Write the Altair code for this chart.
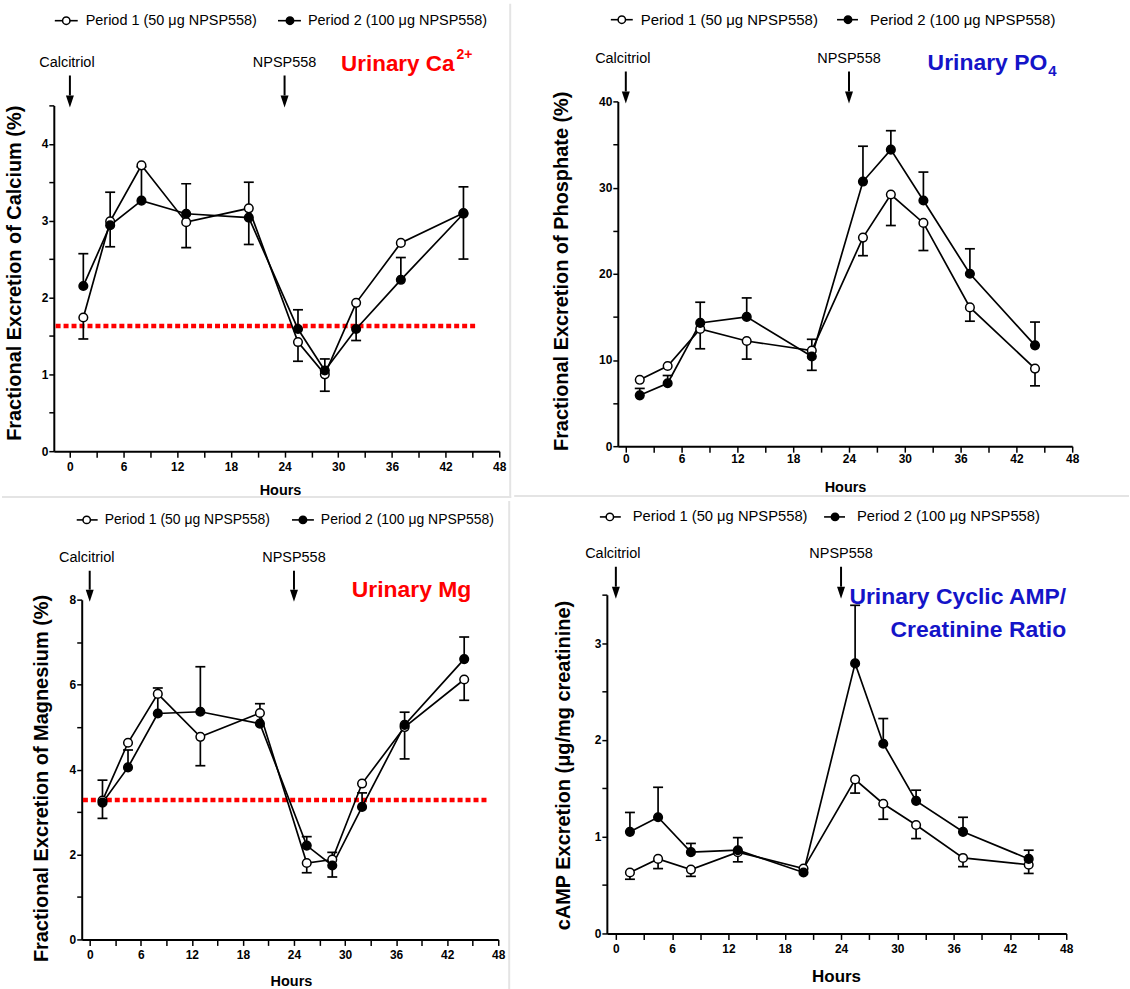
import altair as alt
import pandas as pd

FONT = "Liberation Sans"
RED = "#ff0000"
BLUE = "#1414c8"
ARROW = "M-0.667,-1L0.667,-1L0,1Z"

# ---------------- data ----------------
hours = [1.5, 4.5, 8, 13, 20, 25.5, 28.5, 32, 37, 44]
series_names = ["Period 1 (50 μg NPSP558)", "Period 2 (100 μg NPSP558)"]
dose_events = [0, 24]
dose_labels = ["Calcitriol", "NPSP558"]
x_ticks = list(range(0, 49, 3))

# Urinary Ca2+ : fractional excretion (%) mean and end of error bar
ca_p1 = [1.74, 2.99, 3.72, 2.98, 3.16, 1.42, 1.00, 1.93, 2.71, 3.10]
ca_p1_bar = [1.46, 2.66, 3.72, 2.65, 2.69, 1.17, 0.78, 1.44, 2.71, 2.50]
ca_p2 = [2.15, 2.94, 3.26, 3.09, 3.04, 1.59, 1.05, 1.59, 2.23, 3.09]
ca_p2_bar = [2.57, 3.37, 3.70, 3.48, 3.50, 1.84, 1.20, 1.59, 2.52, 3.44]
ca_ref_level = 1.63
ca_ref_span = [-1.6, 45.4]

# Urinary PO4
po_p1 = [7.7, 9.3, 13.6, 12.2, 11.1, 24.2, 29.2, 25.9, 16.1, 9.0]
po_p1_bar = [7.7, 9.3, 11.3, 10.1, 8.8, 22.1, 25.6, 22.7, 14.5, 7.0]
po_p2 = [5.9, 7.3, 14.3, 15.0, 10.4, 30.7, 34.4, 28.5, 20.0, 11.7]
po_p2_bar = [6.7, 8.2, 16.7, 17.2, 12.4, 34.8, 36.6, 31.8, 22.9, 14.4]

# Urinary Mg
mg_p1 = [3.27, 4.63, 5.78, 4.77, 5.33, 1.80, 1.88, 3.67, 5.00, 6.12]
mg_p1_bar = [2.85, 4.63, 5.78, 4.09, 5.33, 1.57, 1.47, 3.67, 4.25, 5.63]
mg_p2 = [3.22, 4.05, 5.32, 5.36, 5.08, 2.21, 1.74, 3.12, 5.05, 6.60]
mg_p2_bar = [3.75, 4.46, 5.92, 6.42, 5.55, 2.42, 2.05, 3.45, 5.35, 7.12]
mg_ref_level = 3.28
mg_ref_span = [-0.8, 46.8]

# Urinary cAMP / creatinine
camp_p1 = [0.63, 0.77, 0.66, 0.84, 0.67, 1.59, 1.34, 1.12, 0.78, 0.71]
camp_p1_bar = [0.56, 0.67, 0.59, 0.74, 0.67, 1.45, 1.18, 0.98, 0.69, 0.62]
camp_p2 = [1.05, 1.20, 0.84, 0.86, 0.63, 2.79, 1.96, 1.37, 1.05, 0.77]
camp_p2_bar = [1.25, 1.51, 0.93, 0.99, 0.63, 3.39, 2.22, 1.48, 1.20, 0.86]

one = pd.DataFrame({"k": [0]})


def frange(a, b, s):
    out, v = [], a
    while v <= b + 1e-9:
        out.append(round(v, 3))
        v += s
    return out


def spacer():
    return alt.Chart(one).mark_rect(opacity=0).encode(
        x=alt.value(0), x2=alt.value(1), y=alt.value(0), y2=alt.value(1)
    ).properties(width=1, height=1)


def panel(p1, p1b, p2, p2b, c, ref=None):
    rows = []
    for name, vals, bars in ((series_names[0], p1, p1b), (series_names[1], p2, p2b)):
        for t, v, e in zip(hours, vals, bars):
            rows.append({"series": name, "t": t, "v": v, "e": e})
    df = pd.DataFrame(rows)

    common = dict(domainColor="black", domainWidth=2, tickColor="black", tickWidth=1.5,
                  labelFont=FONT, labelFontWeight="bold", labelFontSize=12, labelColor="black",
                  titleFont=FONT, titleFontWeight="bold", titleColor="black", grid=False,
                  labelFlush=False, labelOverlap=False, titleBaseline="middle", titleAlign="center")
    xaxis = alt.Axis(values=x_ticks, labelExpr="datum.value % 6 === 0 ? format(datum.value, 'd') : ''",
                     tickSize=6, labelPadding=c["xlp"], title="Hours", titleFontSize=c["hfs"],
                     titleX=c["hx"], titleY=c["hy"], **common)
    yaxis = alt.Axis(values=c["yvals"],
                     labelExpr=f"datum.value % {c['ymaj']} === 0 ? format(datum.value, 'd') : ''",
                     tickSize=5, labelPadding=1, title=c["ytitle"], titleFontSize=20,
                     titleX=c["ytx"], titleY=c["yty"], titleAngle=270, **common)

    def X(f="t"):
        return alt.X(f"{f}:Q", scale=alt.Scale(domain=[c["xmin"], 48], nice=False, zero=False), axis=xaxis)

    def Y(f="v"):
        return alt.Y(f"{f}:Q", scale=alt.Scale(domain=[0, c["ymax"]], nice=False), axis=yaxis)

    layers = []
    a0, a1, a2, a3 = c["anchor"]
    layers.append(alt.Chart(one).mark_rect(opacity=0).encode(
        x=alt.value(a0), x2=alt.value(a1), y=alt.value(a2), y2=alt.value(a3)))
    for (sx0, sx1, sy0, sy1) in c["seps"]:
        layers.append(alt.Chart(one).mark_rule(color="#e4e4e4", strokeWidth=2).encode(
            x=alt.value(sx0), x2=alt.value(sx1), y=alt.value(sy0), y2=alt.value(sy1)))

    if ref is not None:
        level, span = ref
        rdf = pd.DataFrame({"t": [span[0]], "t2": [span[1]], "v": [level]})
        layers.append(alt.Chart(rdf).mark_rule(color=RED, strokeWidth=4.5, strokeDash=[5, 3]).encode(
            x=X(), x2="t2:Q", y=Y()))

    layers.append(alt.Chart(df).mark_line(color="black", strokeWidth=1.7).encode(
        x=X(), y=Y(), detail="series:N"))
    layers.append(alt.Chart(df).transform_filter("datum.e != datum.v").mark_rule(
        color="black", strokeWidth=1.7).encode(x=X(), y=Y(), y2="e:Q"))
    layers.append(alt.Chart(df).transform_filter("datum.e != datum.v").mark_tick(
        color="black", orient="horizontal", size=10, thickness=1.7, opacity=1).encode(x=X(), y=Y("e")))
    layers.append(alt.Chart(df).mark_point(filled=True, size=75, stroke="black", strokeWidth=1.5,
                                           opacity=1).encode(
        x=X(), y=Y(),
        fill=alt.Fill("series:N", scale=alt.Scale(domain=series_names, range=["white", "black"]),
                      legend=None)))

    # dosing arrows
    ev = pd.DataFrame({"t": dose_events, "label": dose_labels})
    s0, s1, hc = c["arr"]
    layers.append(alt.Chart(ev).mark_rule(color="black", strokeWidth=2).encode(
        x=X(), y=alt.value(s0), y2=alt.value(s1)))
    layers.append(alt.Chart(ev).mark_point(shape=ARROW, size=144, filled=True, color="black",
                                           opacity=1).encode(x=X(), y=alt.value(hc)))
    layers.append(alt.Chart(ev).transform_filter("datum.t == 0").mark_text(
        font=FONT, fontSize=14.5, dx=-3, baseline="middle", color="black").encode(
        x=X(), y=alt.value(c["laby"]), text="label:N"))
    layers.append(alt.Chart(ev).transform_filter("datum.t == 24").mark_text(
        font=FONT, fontSize=14.5, dx=0, baseline="middle", color="black").encode(
        x=X(), y=alt.value(c["laby"]), text="label:N"))

    # legend
    ly = c["leg_y"]
    o0, o1, oc, ot, f0, f1, fc, ft = c["leg"]
    for (l0, l1, lc, lt, fillc, name) in ((o0, o1, oc, ot, "white", series_names[0]),
                                          (f0, f1, fc, ft, "black", series_names[1])):
        layers.append(alt.Chart(one).mark_rule(color="black", strokeWidth=1.6).encode(
            x=alt.value(l0), x2=alt.value(l1), y=alt.value(ly)))
        layers.append(alt.Chart(one).mark_point(filled=True, fill=fillc, stroke="black", strokeWidth=1.5,
                                                size=55, opacity=1).encode(x=alt.value(lc), y=alt.value(ly)))
        layers.append(alt.Chart(one).mark_text(align="left", baseline="middle", font=FONT,
                                               fontSize=c["lfs"], color="black", text=name).encode(
            x=alt.value(lt), y=alt.value(ly)))

    # coloured titles
    for (txt, tx, ty, fs, al, col) in c["titles"]:
        layers.append(alt.Chart(one).mark_text(align=al, baseline="middle", font=FONT, fontSize=fs,
                                               fontWeight="bold", color=col, text=txt).encode(
            x=alt.value(tx), y=alt.value(ty)))

    body = alt.layer(*layers).properties(width=c["w"], height=c["h"])
    # wrap so that each panel's plot origin can sit independently inside its cell
    return alt.hconcat(spacer(), alt.vconcat(spacer(), body, spacing=0), spacing=0)


cfg1 = dict(w=447, h=347, xmin=-1.8, ymax=4.5, yvals=frange(0, 4.5, 0.5), ymaj=1,
            ytitle="Fractional Excretion of Calcium (%)", ytx=-39, yty=168,
            hx=227, hy=39.5, hfs=14.5, xlp=4,
            anchor=(-52, 459, -102, 394), seps=[(458, 458, -102, 394), (-52, 459, 393, 393)],
            arr=(-30, -10, -4), laby=-43,
            leg_y=-85, leg=(1, 24, 12.5, 32, 225, 248, 237, 255), lfs=14.5,
            titles=[("Urinary Ca", 402, -42, 22.5, "right", RED), ("2+", 404, -51, 14, "left", RED)])

cfg2 = dict(w=456, h=346, xmin=-0.86, ymax=40, yvals=frange(0, 40, 5), ymaj=10,
            ytitle="Fractional Excretion of Phosphate (%)", ytx=-56, yty=170,
            hx=228, hy=41, hfs=14.5, xlp=1,
            anchor=(-104, 513, -99, 397), seps=[(-104, 513, 396, 396)],
            arr=(-30, -10, -4), laby=-43,
            leg_y=-82, leg=(-7, 15, 4, 23, 220, 241, 231, 253), lfs=15,
            titles=[("Urinary PO", 431, -39, 23, "right", BLUE), ("4", 432, -30, 15, "left", BLUE)])

cfg3 = dict(w=418, h=341, xmin=-0.94, ymax=8, yvals=frange(0, 8, 1), ymaj=2,
            ytitle="Fractional Excretion of Magnesium (%)", ytx=-40, yty=179,
            hx=210, hy=42, hfs=14.5, xlp=4,
            anchor=(-81, 430, -99, 392), seps=[(429, 429, -99, 392)],
            arr=(-29, -10, -4), laby=-42,
            leg_y=-80, leg=(-5, 16, 5, 23, 211, 233, 222, 240), lfs=14,
            titles=[("Urinary Mg", 391, -10, 23, "right", RED)])

cfg4 = dict(w=461, h=340, xmin=-0.96, ymax=3.5, yvals=frange(0, 3.5, 0.5), ymaj=1,
            ytitle="cAMP Excretion (μg/mg creatinine)", ytx=-43, yty=171,
            hx=230, hy=43.5, hfs=17, xlp=4,
            anchor=(-96, 521, -95, 396), seps=[],
            arr=(-28, -8, -2), laby=-41,
            leg_y=-78, leg=(-7, 14, 3, 26, 218, 239, 229, 251), lfs=14.8,
            titles=[("Urinary Cyclic AMP/", 461, 2, 23, "right", BLUE),
                    ("Creatinine Ratio", 461, 35, 23, "right", BLUE)])

p1 = panel(ca_p1, ca_p1_bar, ca_p2, ca_p2_bar, cfg1, ref=(ca_ref_level, ca_ref_span))
p2 = panel(po_p1, po_p1_bar, po_p2, po_p2_bar, cfg2)
p3 = panel(mg_p1, mg_p1_bar, mg_p2, mg_p2_bar, cfg3, ref=(mg_ref_level, mg_ref_span))
p4 = panel(camp_p1, camp_p1_bar, camp_p2, camp_p2_bar, cfg4)

chart = alt.vconcat(
    alt.hconcat(p1, p2, spacing=0),
    alt.hconcat(p3, p4, spacing=0),
    spacing=0,
).properties(padding=0, background="white").configure_view(stroke=None)

chart.save("out.html", embed_options={"renderer": "svg", "actions": False})
